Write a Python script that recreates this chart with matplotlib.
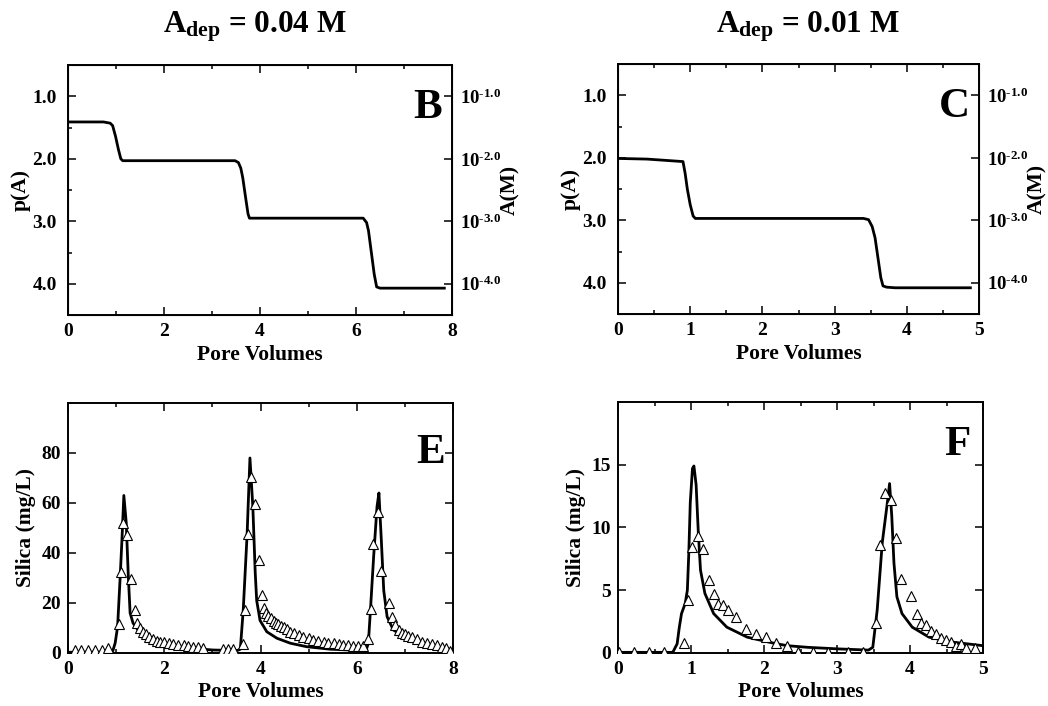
import matplotlib
matplotlib.use("Agg")
import matplotlib.pyplot as plt
from matplotlib.ticker import MultipleLocator, FixedLocator

plt.rcParams['font.family'] = ['Liberation Serif', 'DejaVu Serif']
plt.rcParams['font.weight'] = 'bold'
plt.rcParams['mathtext.fontset'] = 'custom'
plt.rcParams['mathtext.rm'] = 'Liberation Serif:bold'
plt.rcParams['mathtext.it'] = 'Liberation Serif:bold'
plt.rcParams['mathtext.bf'] = 'Liberation Serif:bold'

# pA profiles (model), Adep = 0.04 M
pv_b = [0, 0.74, 0.88, 0.93, 0.99, 1.05, 1.10, 1.14, 3.48, 3.55, 3.60, 3.64,
        3.70, 3.75, 3.78, 6.15, 6.22, 6.26, 6.32, 6.38, 6.43, 6.50, 7.84]
pa_b = [1.41, 1.41, 1.43, 1.47, 1.64, 1.85, 2.00, 2.03, 2.03, 2.06, 2.15, 2.30,
        2.62, 2.88, 2.95, 2.95, 3.02, 3.15, 3.50, 3.85, 4.05, 4.07, 4.07]

# pA profile (model), Adep = 0.01 M
pv_c = [0, 0.40, 0.90, 0.93, 0.96, 1.00, 1.04, 1.07, 3.40, 3.47, 3.52, 3.56,
        3.60, 3.64, 3.67, 3.72, 3.84, 4.88]
pa_c = [2.01, 2.02, 2.06, 2.25, 2.50, 2.75, 2.93, 2.97, 2.97, 2.99, 3.10, 3.28,
        3.60, 3.92, 4.05, 4.07, 4.08, 4.08]

# silica breakthrough, Adep = 0.04 M : model curve
pv_e = [0, 0.90, 0.93, 0.98, 1.03, 1.08, 1.12, 1.16, 1.21, 1.25, 1.29, 1.35,
        1.50, 1.77, 2.00, 2.50, 3.00, 3.40, 3.52, 3.58, 3.64, 3.72, 3.78, 3.84,
        3.89, 3.92, 3.99, 4.13, 4.34, 4.62, 4.96, 5.45, 5.90, 6.20, 6.24, 6.28,
        6.35, 6.42, 6.46, 6.51, 6.56, 6.63, 6.76, 7.04, 7.46, 7.94]
si_e = [0.3, 0.3, 0.8, 4.0, 10.5, 29, 45, 63, 52, 32, 16, 12,
        7.9, 4.0, 3.0, 2.0, 1.2, 1.0, 1.0, 1.5, 17, 47, 78, 58.5,
        32, 21, 13, 8.5, 5.9, 3.9, 2.5, 1.5, 1.2, 1.5, 3.9, 16,
        38.5, 58.5, 64, 45, 25, 14.5, 9.2, 5.9, 3.2, 1.2]

# silica, Adep = 0.04 M : measured
pv_e_obs = [0.15, 0.28, 0.42, 0.56, 0.70, 0.84, 1.05, 1.10, 1.15, 1.23, 1.30,
            1.39, 1.44, 1.50, 1.55, 1.62, 1.69, 1.77, 1.84, 1.91, 2.00, 2.09,
            2.19, 2.29, 2.40, 2.50, 2.60, 2.70, 2.81, 3.22, 3.33, 3.43, 3.63,
            3.68, 3.73, 3.80, 3.89, 3.96, 4.03, 4.07, 4.12, 4.16, 4.21, 4.27,
            4.32, 4.37, 4.42, 4.48, 4.55, 4.62, 4.70, 4.79, 4.89, 5.00, 5.10,
            5.20, 5.31, 5.41, 5.52, 5.62, 5.72, 5.82, 5.92, 6.02, 6.13, 6.24,
            6.29, 6.33, 6.45, 6.51, 6.66, 6.73, 6.80, 6.87, 6.94, 7.01, 7.07,
            7.14, 7.25, 7.35, 7.46, 7.56, 7.67, 7.77, 7.86, 7.94]
si_e_obs = [1.0, 1.0, 1.0, 1.0, 1.0, 1.8, 11.5, 32.5, 52, 47, 29.5,
            17.2, 12.1, 10.0, 8.5, 7.6, 6.5, 5.5, 4.9, 4.5, 4.3, 4.0,
            3.5, 3.3, 3.0, 2.6, 2.3, 2.2, 2.1, 1.5, 1.5, 1.5, 3.6,
            17, 47.5, 70.3, 59.5, 37, 23.2, 17.9, 16.1, 14.9, 13.9, 12.9,
            12.1, 11.6, 10.8, 10.3, 9.5, 8.5, 7.9, 7.2, 6.5, 5.9, 5.2,
            4.8, 4.5, 4.1, 3.8, 3.5, 3.2, 3.0, 2.8, 2.6, 2.8, 5.5,
            17.5, 43.6, 56.5, 32.8, 19.9, 14.5, 11.2, 9.2, 8.1, 7.5, 6.8,
            6.3, 5.5, 4.5, 3.9, 3.5, 3.2, 2.5, 1.9, 0.9]

# silica breakthrough, Adep = 0.01 M : model curve
pv_f = [0, 0.75, 0.81, 0.84, 0.87, 0.92, 0.95, 0.97, 0.99, 1.02, 1.04, 1.07,
        1.10, 1.13, 1.19, 1.31, 1.49, 1.77, 2.14, 2.32, 2.60, 3.00, 3.43, 3.49,
        3.55, 3.62, 3.69, 3.72, 3.75, 3.78, 3.82, 3.89, 4.03, 4.26, 4.59, 5.00]
si_f = [0.05, 0.05, 0.73, 2.06, 3.14, 3.94, 5.0, 8.0, 12.0, 14.7, 14.9, 13.4,
        9.6, 6.6, 4.75, 3.14, 2.06, 1.26, 0.77, 0.58, 0.45, 0.33, 0.23, 0.45,
        3.4, 8.8, 12.0, 13.5, 10.9, 7.16, 4.48, 3.14, 2.06, 1.26, 0.86, 0.58]

# silica, Adep = 0.01 M : measured
pv_f_obs = [0.01, 0.22, 0.42, 0.63, 0.90, 0.96, 1.02, 1.09, 1.17, 1.24, 1.31,
            1.37, 1.44, 1.50, 1.62, 1.76, 1.89, 2.03, 2.17, 2.32, 2.47, 2.67,
            2.88, 3.15, 3.36, 3.53, 3.59, 3.66, 3.74, 3.81, 3.88, 4.02, 4.09,
            4.15, 4.22, 4.29, 4.35, 4.42, 4.49, 4.56, 4.63, 4.70, 4.77, 4.89]
si_f_obs = [0.1, 0.1, 0.1, 0.1, 0.77, 4.21, 8.42, 9.36, 8.32, 5.82, 4.69,
            3.94, 3.81, 3.46, 2.87, 1.93, 1.53, 1.26, 0.77, 0.53, 0.1, 0.1,
            0.1, 0.1, 0.1, 2.38, 8.64, 12.72, 12.2, 9.18, 5.88, 4.56, 3.14,
            2.38, 2.19, 1.79, 1.53, 1.21, 1.0, 0.86, 0.59, 0.72, 0.4, 0.37]

pa_ticks = [1.0, 2.0, 3.0, 4.0]
conc_labels = [r'$10^{\text{-}1.0}$', r'$10^{\text{-}2.0}$',
               r'$10^{\text{-}3.0}$', r'$10^{\text{-}4.0}$']
titles = [r'$A_{dep}$ = 0.04 M', r'$A_{dep}$ = 0.01 M']

fig = plt.figure(figsize=(10.48, 7.06), dpi=100)
ax_b = fig.add_axes([0.0649, 0.5538, 0.3664, 0.354])
ax_c = fig.add_axes([0.5897, 0.5552, 0.3445, 0.354])
ax_e = fig.add_axes([0.0649, 0.0751, 0.3674, 0.3541])
ax_f = fig.add_axes([0.5897, 0.0751, 0.3483, 0.3555])


def style(ax, xmax, xminor, ypad):
    ax.set_xlim(0, xmax)
    ax.xaxis.set_major_locator(MultipleLocator(2 * xminor))
    ax.xaxis.set_minor_locator(MultipleLocator(xminor))
    ax.tick_params(which='both', direction='in', top=True, right=True,
                   labelsize=14, width=1.1)
    ax.tick_params(axis='x', pad=6)
    ax.tick_params(axis='y', pad=ypad)
    ax.tick_params(which='major', length=6)
    ax.tick_params(which='minor', length=3)
    for s in ax.spines.values():
        s.set_linewidth(1.4)
    ax.set_xlabel('Pore Volumes', fontsize=15.5, fontweight='bold', labelpad=3)
    for lab in ax.get_xticklabels() + ax.get_yticklabels():
        lab.set_fontweight('bold')


def pa_panel(ax, x, y, xmax, xminor, letter):
    ax.plot(x, y, color='black', lw=2.0)
    style(ax, xmax, xminor, 8)
    ax.set_ylim(4.5, 0.5)
    ax.yaxis.set_major_locator(FixedLocator(pa_ticks))
    ax.yaxis.set_minor_locator(FixedLocator([1.5, 2.5, 3.5]))
    ax.set_yticklabels(['%.1f' % t for t in pa_ticks], fontweight='bold')
    ax.tick_params(which='minor', right=False)
    ax.set_ylabel('p(A)', fontsize=15.5, fontweight='bold', labelpad=1)
    ax2 = ax.twinx()
    ax2.set_ylim(4.5, 0.5)
    ax2.set_yticks(pa_ticks)
    ax2.set_yticklabels(conc_labels, fontsize=13.5)
    ax2.tick_params(direction='in', length=6, width=1.1, pad=6)
    ax2.set_ylabel('A(M)', fontsize=15.5, fontweight='bold', labelpad=-1)
    ax.text(0.975, 0.83, letter, transform=ax.transAxes, ha='right',
            va='center', fontsize=31, fontweight='bold')


def si_panel(ax, x, y, xo, yo, xmax, xminor, ymax, ystep, letter, lx, ly):
    ax.plot(x, y, color='black', lw=2.0, zorder=3)
    ax.plot(xo, yo, linestyle='none', marker='^', ms=6.5, mfc='white',
            mec='black', mew=0.8, zorder=4)
    style(ax, xmax, xminor, 5)
    ax.set_ylim(0, ymax)
    ax.set_yticks([v * ystep for v in range(int(ymax / ystep))])
    for lab in ax.get_yticklabels():
        lab.set_fontweight('bold')
    ax.set_ylabel('Silica (mg/L)', fontsize=15.5, fontweight='bold', labelpad=4)
    ax.text(lx, ly, letter, transform=ax.transAxes, ha='right',
            va='center', fontsize=31, fontweight='bold')


pa_panel(ax_b, pv_b, pa_b, 8, 1, 'B')
pa_panel(ax_c, pv_c, pa_c, 5, 0.5, 'C')
si_panel(ax_e, pv_e, si_e, pv_e_obs, si_e_obs, 8, 1, 100, 20, 'E', 0.98, 0.80)
si_panel(ax_f, pv_f, si_f, pv_f_obs, si_f_obs, 5, 0.5, 20, 5, 'F', 0.965, 0.83)

fig.text(0.243, 0.962, titles[0], ha='center', va='center', fontsize=22.5)
fig.text(0.771, 0.962, titles[1], ha='center', va='center', fontsize=22.5)

fig.savefig('out.png', dpi=100, facecolor='white')
